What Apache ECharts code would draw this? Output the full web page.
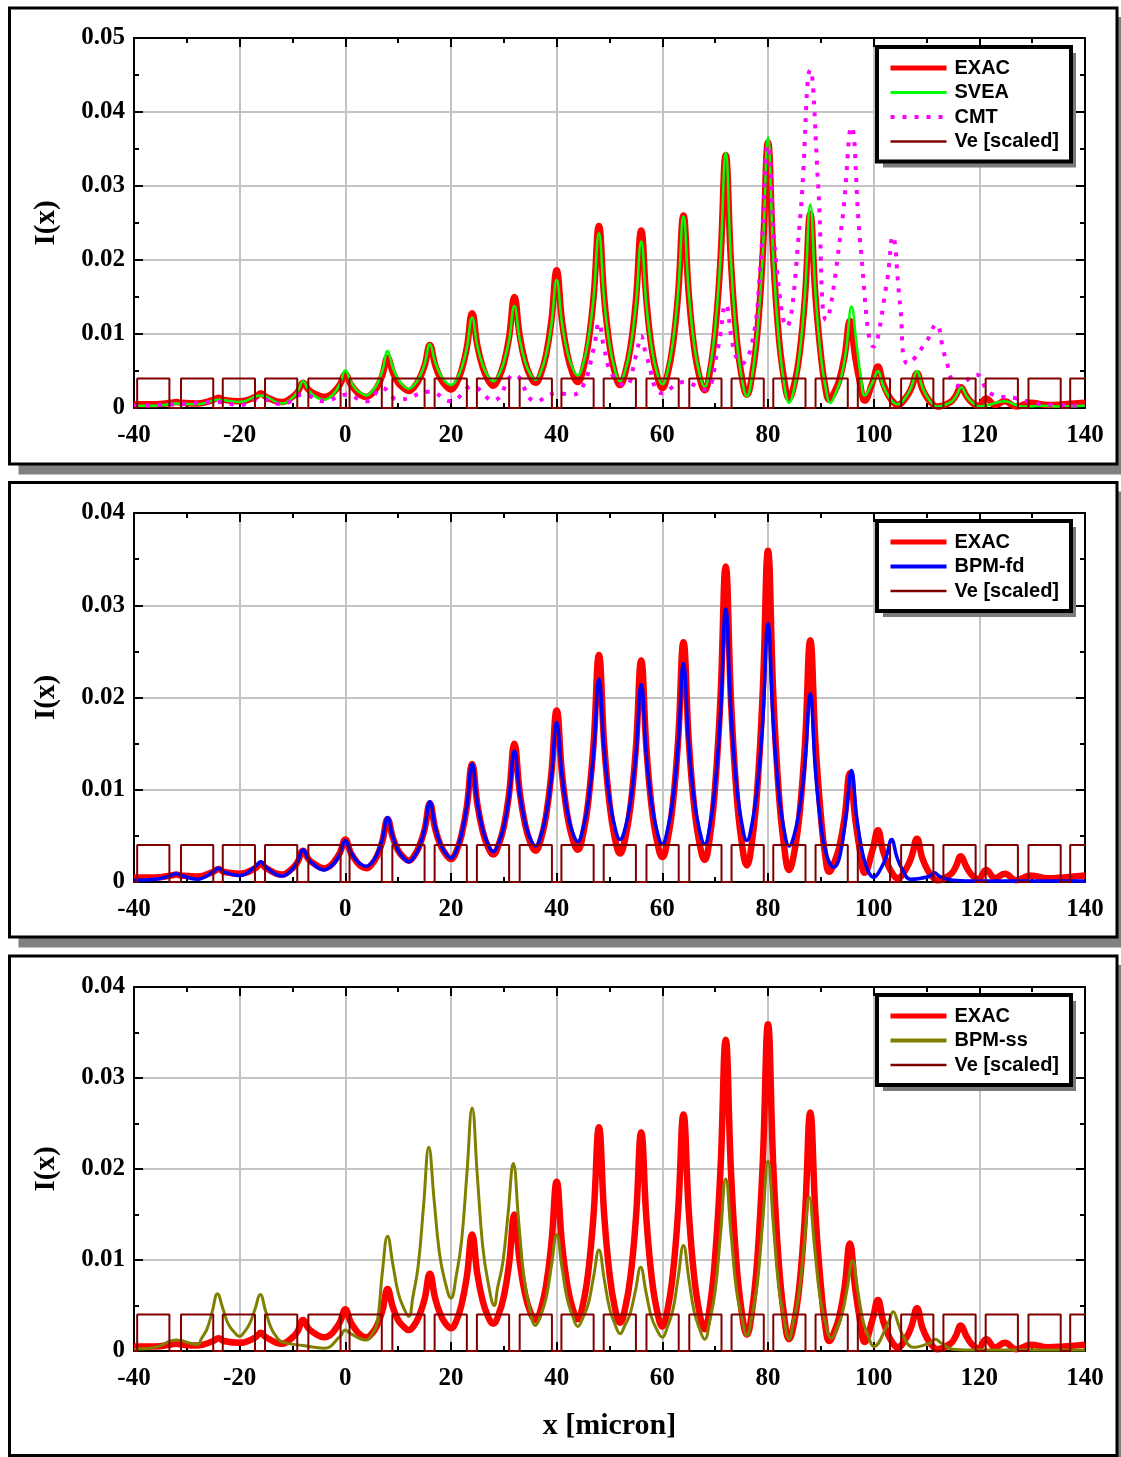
<!DOCTYPE html>
<html>
<head>
<meta charset="utf-8">
<script src="https://cdn.jsdelivr.net/npm/echarts@6/dist/echarts.min.js"></script>
<style>
  html, body { margin: 0; padding: 0; background: #fff; }
  #chart { width: 1121px; height: 1457px; }
</style>
</head>
<body>
<div id="chart"></div>
<script>
// Intensity profiles I(x) across the waveguide array, x in micron.
const xTicks = [-40, -20, 0, 20, 40, 60, 80, 100, 120, 140];

const exac = [
  [-40,.0005],[-36,.0005],[-33,.0007],[-32,.0008],[-31,.0007],[-28,.0006],[-25,.0011],[-24,.0014],[-23,.0011],
  [-20,.0009],[-17,.0015],[-16,.0020],[-15,.0015],[-12,.0008],[-10,.0015],[-9,.0022],[-8,.0034],[-7,.0025],
  [-6,.0020],[-4,.0015],[-3,.0017],[-2,.0023],[-1,.0032],[0,.0046],[1,.0032],[2,.0023],[3,.0017],[4,.0015],
  [5,.0019],[6,.0028],[7,.0044],[8,.0068],[9,.0048],[10,.0034],[11,.0027],[12,.0023],
  [13,.0028],[14,.0039],[15,.0057],[16,.0085],[17,.0058],[18,.0040],[19,.0030],[20,.0025],
  [21,.0033],[22,.0051],[23,.0082],[24,.0128],[25,.0084],[26,.0055],[27,.0038],[28,.0030],
  [29,.0040],[30,.0060],[31,.0096],[32,.0150],[33,.0098],[34,.0063],[35,.0043],[36,.0034],
  [37,.0046],[38,.0072],[39,.0118],[40,.0186],[41,.0118],[42,.0073],[43,.0047],[44,.0035],
  [45,.0052],[46,.0088],[47,.0151],[48,.0246],[49,.0149],[50,.0085],[51,.0048],[52,.0031],
  [53,.0048],[54,.0083],[55,.0146],[56,.0240],[57,.0144],[58,.0080],[59,.0044],[60,.0027],
  [61,.0046],[62,.0085],[63,.0155],[64,.0260],[65,.0154],[66,.0083],[67,.0043],[68,.0024],
  [69,.0049],[70,.0104],[71,.0199],[72,.0342],[73,.0196],[74,.0099],[75,.0044],[76,.0018],
  [77,.0045],[78,.0103],[79,.0206],[80,.0359],[81,.0203],[82,.0100],[83,.0041],[84,.0013],
  [85,.0033],[86,.0075],[87,.0150],[88,.0262],[89,.0149],[90,.0072],[90.8,.0030],[91.6,.0011],
  [92.6,.0022],[93.5,.0038],[94.5,.0070],[95.5,.0118],[96.5,.0069],[97.4,.0034],[98.3,.0010],
  [99.8,.0035],[100.8,.0056],[101.8,.0033],[102.8,.0017],[103.7,.0008],[104.5,.0004],
  [106.2,.0015],[107.2,.0028],[108.2,.0047],[109.2,.0026],[110.2,.0013],[111.2,.0005],[112,.0002],
  [114.5,.0008],[115.5,.0016],[116.5,.0028],[117.5,.0017],[118.5,.0008],[119.8,.0003],[121.3,.0013],[123,.0004],
  [124.8,.0009],[127,.0002],[129.7,.0007],[133,.0004],[136,.0005],[140,.0007]
];

const svea = [
  [-40,.0003],[-36,.0003],[-32,.0006],[-28,.0005],[-24,.0011],[-20,.0008],[-16,.0017],[-12,.0006],
  [-10,.0014],[-9,.0023],[-8,.0036],[-7,.0025],[-6,.0017],[-4,.0011],
  [-3,.0014],[-2,.0021],[-1,.0033],[0,.0051],[1,.0036],[2,.0025],[3,.0020],[4,.0017],
  [5,.0022],[6,.0032],[7,.0050],[8,.0077],[9,.0054],[10,.0039],[11,.0030],[12,.0026],
  [13,.0031],[14,.0041],[15,.0059],[16,.0086],[17,.0062],[18,.0045],[19,.0035],[20,.0031],
  [21,.0038],[22,.0054],[23,.0081],[24,.0122],[25,.0083],[26,.0058],[27,.0043],[28,.0036],
  [29,.0044],[30,.0062],[31,.0092],[32,.0138],[33,.0093],[34,.0063],[35,.0046],[36,.0038],
  [37,.0049],[38,.0072],[39,.0112],[40,.0173],[41,.0115],[42,.0076],[43,.0054],[44,.0044],
  [45,.0059],[46,.0092],[47,.0150],[48,.0236],[49,.0146],[50,.0086],[51,.0052],[52,.0036],
  [53,.0051],[54,.0083],[55,.0140],[56,.0225],[57,.0138],[58,.0080],[59,.0047],[60,.0032],
  [61,.0050],[62,.0089],[63,.0157],[64,.0259],[65,.0156],[66,.0087],[67,.0047],[68,.0029],
  [69,.0054],[70,.0108],[71,.0203],[72,.0345],[73,.0197],[74,.0098],[75,.0042],[76,.0016],
  [77,.0044],[78,.0104],[79,.0209],[80,.0366],[81,.0205],[82,.0097],[83,.0036],[84,.0007],
  [85,.0028],[86,.0074],[87,.0154],[88,.0275],[89,.0154],[90,.0070],[90.9,.0028],[91.8,.0007],
  [92.8,.0020],[93.8,.0040],[94.8,.0079],[95.8,.0137],[96.8,.0084],[97.6,.0040],[98.3,.0017],
  [99.8,.0035],[100.8,.0050],[101.8,.0030],[102.8,.0016],[103.7,.0008],[104.5,.0005],
  [106.2,.0016],[107.2,.0030],[108.2,.0050],[109.2,.0028],[110.2,.0014],[111.2,.0005],[112,.0002],
  [114.6,.0008],[115.6,.0016],[116.6,.0028],[117.6,.0016],[118.6,.0008],[120,.0002],[124.8,.0009],[128,.0002],
  [132,.0003],[136,.0002],[140,.0003]
];

const cmt = [
  [-40,.0003],[-32,.0005],[-24,.0008],[-20,.0004],[-16,.0012],[-12,.0005],[-8,.0018],[-4,.0009],
  [0,.0018],[4,.0009],[7,.0027],[10,.0011],[16,.0022],[20,.0009],[24,.0029],[28,.0010],[32,.0045],
  [36,.0009],[40,.0020],[43,.0018],[45,.0030],[47,.0080],[48,.0115],[49,.0080],[50.5,.0045],[53,.0030],
  [55,.0070],[56,.0097],[57,.0070],[60,.0020],[64,.0035],[68,.0025],[70.5,.0080],[72,.0140],[73.5,.0080],
  [75,.0060],[77,.0088],[78.5,.0187],[80,.0355],[81.5,.0200],[83.5,.0110],[86,.0250],[88,.0457],
  [89.5,.0300],[91,.0119],[94,.0250],[95.8,.0380],[97.5,.0220],[100,.0083],[102.5,.0170],[103.6,.0232],
  [105,.0140],[106.5,.0060],[110,.0090],[111.8,.0113],[113.5,.0070],[116,.0030],[119.5,.0045],
  [122,.0020],[127,.0013],[132,.0005],[140,.0003]
];

const bpmFd = [
  [-40,.0002],[-36,.0003],[-33,.0007],[-32,.0009],[-31,.0007],[-28,.0003],[-25,.0011],[-24,.0015],[-23,.0011],
  [-20,.0007],[-17,.0017],[-16,.0022],[-15,.0016],[-12,.00065],[-10,.0014],[-9,.0023],[-8,.0035],[-7,.0025],
  [-6,.0019],[-4,.0013],
  [-3,.0016],[-2,.0021],[-1,.0031],[0,.0045],[1,.0033],[2,.0024],[3,.0019],[4,.0017],
  [5,.0021],[6,.0030],[7,.0046],[8,.0070],[9,.0049],[10,.0034],[11,.0026],[12,.0022],
  [13,.0027],[14,.0038],[15,.0058],[16,.0087],[17,.0060],[18,.0041],[19,.0031],[20,.0026],
  [21,.0034],[22,.0052],[23,.0082],[24,.0128],[25,.0085],[26,.0057],[27,.0041],[28,.0033],
  [29,.0042],[30,.0060],[31,.0093],[32,.0142],[33,.0096],[34,.0065],[35,.0047],[36,.0039],
  [37,.0050],[38,.0073],[39,.0113],[40,.0173],[41,.0116],[42,.0076],[43,.0054],[44,.0044],
  [45,.0058],[46,.0088],[47,.0141],[48,.0220],[49,.0142],[50,.0090],[51,.0060],[52,.0046],
  [53,.0059],[54,.0088],[55,.0138],[56,.0214],[57,.0136],[58,.0084],[59,.0055],[60,.0041],
  [61,.0057],[62,.0090],[63,.0149],[64,.0237],[65,.0149],[66,.0090],[67,.0057],[68,.0041],
  [69,.0061],[70,.0105],[71,.0181],[72,.0296],[73,.0183],[74,.0108],[75,.0065],[76,.0045],
  [77,.0064],[78,.0104],[79,.0174],[80,.0280],[81,.0172],[82,.0099],[83,.0058],[84,.0039],
  [85,.0052],[86,.0080],[87,.0130],[88,.0204],[89,.0119],[90,.0063],[91,.0031],[92.5,.0016],
  [93.6,.0028],[94.8,.0074],[95.8,.0121],[96.8,.0069],[97.8,.0034],[98.8,.0014],[100,.0005],
  [101.4,.0015],[102.4,.0028],[103.4,.0046],[104.4,.0027],[105.4,.0014],[107,.0003],
  [110.5,.0006],[111.5,.0010],[112.5,.0006],[115,.0002],[120,.0001],[140,.0001]
];

const bpmSs = [
  [-40,.0002],[-36,.0004],[-32,.0012],[-28,.0007],[-27.2,.0014],[-26.2,.0024],[-25.2,.0043],[-24.2,.0063],
  [-23.2,.0047],[-22.2,.0030],[-21.2,.0022],[-20,.0016],[-19.1,.0021],[-18.1,.0030],[-17.1,.0046],[-16.1,.0062],
  [-15.1,.0044],[-14.1,.0026],[-13.1,.0016],[-12,.0010],
  [-8,.0006],[-4,.0003],[-1,.0016],[0,.0023],[1,.0019],[4,.0012],
  [5,.0018],[6,.0030],[7,.0086],[8,.0126],[9,.0095],[10,.0064],[11,.0048],[12,.0038],
  [12.8,.0060],[13.8,.0094],[14.8,.0159],[15.8,.0224],[16.8,.0166],[17.8,.0108],[18.8,.0078],[20,.0058],
  [21,.0083],[22,.0121],[23,.0194],[24,.0267],[25,.0191],[26,.0115],[27,.0076],[28.2,.0050],
  [28.8,.0069],[29.8,.0097],[30.8,.0151],[31.8,.0206],[32.8,.0143],[33.8,.0081],[34.8,.0049],[36,.0028],
  [37,.0040],[38,.0058],[39,.0093],[40,.0128],[41,.0092],[42,.0057],[43,.0039],[44,.0027],
  [45,.0037],[46,.0052],[47,.0082],[48,.0111],[49,.0079],[50,.0047],[51,.0030],[52,.0019],
  [52.9,.0028],[53.9,.0041],[54.9,.0066],[55.9,.0092],[56.9,.0065],[57.9,.0038],[58.9,.0024],[60,.0015],
  [61,.0027],[62,.0045],[63,.0081],[64,.0116],[65,.0080],[66,.0044],[67,.0025],[68,.0013],
  [69,.0034],[70,.0066],[71,.0127],[72,.0189],[73,.0129],[74,.0068],[75,.0038],[76,.0017],
  [77,.0040],[78,.0075],[79,.0142],[80,.0209],[81,.0140],[82,.0072],[83,.0037],[84,.0013],
  [84.8,.0032],[85.8,.0060],[86.8,.0114],[87.8,.0169],[88.8,.0115],[89.8,.0061],[90.8,.0033],[92,.0014],
  [93,.0024],[94,.0040],[95,.0069],[96,.0099],[97,.0066],[98,.0033],[99,.0016],[100,.0005],
  [102.7,.0030],[103.7,.0043],[104.7,.0029],[105.7,.0015],[107.5,.0004],
  [110.7,.0009],[111.7,.0013],[112.7,.0009],[115,.0002],[120,.0001],[140,.0001]
];

// Scaled index profile: raised segments between these edges.
const veLevel = 0.004;
const veStarts = [-39.4,-31.1,-23.2,-15.2,-7.0,0.8,8.9,16.9,24.9,33.0,40.9,48.9,57.0,65.1,73.1,81.0,89.0,97.0,105.2,113.2,121.2,129.3,137.2];
const veEnds   = [-33.3,-25.0,-17.1,-9.1,-0.9,6.9,15.0,23.0,31.0,39.1,47.0,55.0,63.1,71.2,79.2,87.1,95.1,103.1,111.3,119.3,127.3,135.4,143.3];

const veLine = [[-40, 0]];
veStarts.forEach((s, i) => {
  veLine.push([s, 0], [s, veLevel], [veEnds[i], veLevel], [veEnds[i], 0]);
});

const SERIF = '"Liberation Serif", "Times New Roman", serif';
const SANS = '"Liberation Sans", Arial, sans-serif';

const COLORS = {
  exac: '#ff0000', svea: '#00ff00', cmt: '#ff00ff',
  fd: '#0000ff', ss: '#808000', ve: '#800000'
};

// legend sample thickness per entry
const legendWidths = { 'EXAC': 5, 'SVEA': 3, 'CMT': 4, 'BPM-fd': 4, 'BPM-ss': 4, 'Ve [scaled]': 2.5 };

const panels = [
  { top: 38,  height: 370, yMax: 0.05, legendTop: 47,  names: ['EXAC', 'SVEA', 'CMT', 'Ve [scaled]'] },
  { top: 513, height: 369, yMax: 0.04, legendTop: 521, names: ['EXAC', 'BPM-fd', 'Ve [scaled]'] },
  { top: 987, height: 364, yMax: 0.04, legendTop: 995, names: ['EXAC', 'BPM-ss', 'Ve [scaled]'] }
];

const LEGEND_LEFT = 877, LEGEND_W = 193, ITEM_H = 20, ITEM_GAP = 4.5, PAD_V = 21;

const grids = [], xAxes = [], yAxes = [], legends = [];
const graphic = [];

// Panel frames: a flat grey shadow behind a white, black-edged box
const frames = [
  { y: 8, h: 456 }, { y: 482.5, h: 454.5 }, { y: 956, h: 499.5 }
];
frames.forEach(f => {
  graphic.push({ type: 'rect', z: -20, silent: true,
    shape: { x: 18.5, y: f.y + 9, width: 1107.5, height: f.h + 1.5 }, style: { fill: '#808080' } });
  graphic.push({ type: 'rect', z: -10, silent: true,
    shape: { x: 9.5, y: f.y, width: 1107.5, height: f.h }, style: { fill: '#fff', stroke: '#000', lineWidth: 3 } });
});

panels.forEach((p, i) => {
  grids.push({ left: 134, right: 36, top: p.top, height: p.height, containLabel: false });
  const tickStyle = { color: '#000', width: 2 };
  xAxes.push({
    gridIndex: i, type: 'value', position: 'bottom', min: -40, max: 140, interval: 20,
    axisLine: { show: true, onZero: false, lineStyle: tickStyle },
    axisTick: { show: true, inside: true, length: 9, lineStyle: tickStyle },
    minorTick: { show: true, splitNumber: 2, length: 5, lineStyle: tickStyle },
    splitLine: { show: true, lineStyle: { color: '#c4c4c4', width: 2 } },
    axisLabel: { color: '#000', fontFamily: SERIF, fontWeight: 'bold', fontSize: 25, margin: 15,
                 formatter: v => xTicks.includes(v) ? String(v) : '' },
    name: i === 2 ? 'x [micron]' : '',
    nameLocation: 'middle', nameGap: 60,
    nameTextStyle: { color: '#000', fontFamily: SERIF, fontWeight: 'bold', fontSize: 30 }
  });
  xAxes.push({
    gridIndex: i, type: 'value', position: 'top', min: -40, max: 140, interval: 20,
    axisLine: { show: true, onZero: false, lineStyle: tickStyle },
    axisTick: { show: true, inside: true, length: 9, lineStyle: tickStyle },
    minorTick: { show: true, splitNumber: 2, length: 5, lineStyle: tickStyle },
    splitLine: { show: false }, axisLabel: { show: false }
  });
  yAxes.push({
    gridIndex: i, type: 'value', position: 'left', min: 0, max: p.yMax, interval: 0.01,
    axisLine: { show: true, onZero: false, lineStyle: tickStyle },
    axisTick: { show: true, inside: true, length: 9, lineStyle: tickStyle },
    minorTick: { show: true, splitNumber: 2, length: 5, lineStyle: tickStyle },
    splitLine: { show: true, lineStyle: { color: '#c4c4c4', width: 2 } },
    axisLabel: { color: '#000', fontFamily: SERIF, fontWeight: 'bold', fontSize: 25, margin: 9,
                 formatter: v => v === 0 ? '0' : v.toFixed(2) },
    name: 'I(x)', nameLocation: 'middle', nameGap: 73, nameRotate: 90,
    nameTextStyle: { color: '#000', fontFamily: SERIF, fontWeight: 'bold', fontSize: 29 }
  });
  yAxes.push({
    gridIndex: i, type: 'value', position: 'right', min: 0, max: p.yMax, interval: 0.01,
    axisLine: { show: true, onZero: false, lineStyle: tickStyle },
    axisTick: { show: true, inside: true, length: 9, lineStyle: tickStyle },
    minorTick: { show: true, splitNumber: 2, length: 5, lineStyle: tickStyle },
    splitLine: { show: false }, axisLabel: { show: false }
  });
  legends.push({
    data: p.names.map(n => ({ name: n, lineStyle: { width: legendWidths[n] } })),
    orient: 'vertical', left: LEGEND_LEFT, top: p.legendTop,
    itemWidth: 56, itemHeight: 14, itemGap: ITEM_GAP,
    padding: [11, 12, 10, 11],
    backgroundColor: '#fff', borderColor: '#000', borderWidth: 4,
    selectedMode: false,
    itemStyle: { opacity: 0 },
    textStyle: { color: '#000', fontFamily: SANS, fontWeight: 'bold', fontSize: 20, padding: [0, 0, 0, 3] }
  });
  // flat shadow under the legend box
  const n = p.names.length;
  graphic.push({ type: 'rect', z: 3, silent: true,
    shape: { x: LEGEND_LEFT + 6, y: p.legendTop + 6, width: LEGEND_W, height: n * ITEM_H + (n - 1) * ITEM_GAP + PAD_V },
    style: { fill: '#7a7a7a' } });
});

function curve(name, data, panel, color, width, extra) {
  return Object.assign({
    name, type: 'line', data, xAxisIndex: panel * 2, yAxisIndex: panel * 2,
    symbol: 'none', smooth: 0.45, animation: false,
    lineStyle: { color, width }, itemStyle: { color }
  }, extra || {});
}
function veSeries(panel) {
  return {
    name: 'Ve [scaled]', type: 'line', data: veLine, xAxisIndex: panel * 2, yAxisIndex: panel * 2,
    symbol: 'none', animation: false, lineStyle: { color: COLORS.ve, width: 2 }, itemStyle: { color: COLORS.ve }
  };
}

const series = [
  curve('EXAC', exac, 0, COLORS.exac, 6.5),
  curve('SVEA', svea, 0, COLORS.svea, 2.5),
  curve('CMT', cmt, 0, COLORS.cmt, 4, { lineStyle: { color: COLORS.cmt, width: 4, type: [4, 8] } }),
  veSeries(0),
  curve('EXAC', exac, 1, COLORS.exac, 6.5),
  curve('BPM-fd', bpmFd, 1, COLORS.fd, 3.5),
  veSeries(1),
  curve('EXAC', exac, 2, COLORS.exac, 6.5),
  curve('BPM-ss', bpmSs, 2, COLORS.ss, 3),
  veSeries(2)
];

const chart = echarts.init(document.getElementById('chart'), null, { renderer: 'canvas' });
chart.setOption({
  backgroundColor: '#fff',
  animation: false,
  graphic, grid: grids, xAxis: xAxes, yAxis: yAxes, legend: legends, series
});
</script>
</body>
</html>
